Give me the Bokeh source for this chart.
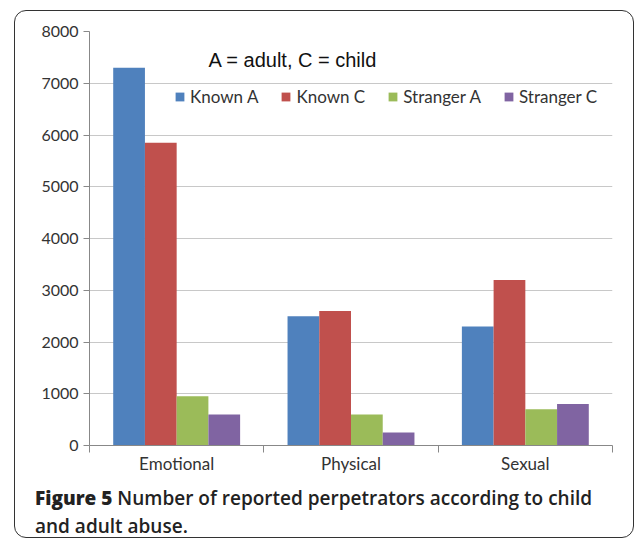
from bokeh.plotting import figure
from bokeh.models import (ColumnDataSource, Range1d, FixedTicker, Label, Legend, LegendItem, Div)
from bokeh.layouts import column
from bokeh.transform import dodge
from bokeh.embed import file_html
from bokeh.resources import INLINE
import numpy as np

categories = ["Emotional", "Physical", "Sexual"]
series = ["Known A", "Known C", "Stranger A", "Stranger C"]
known_a = [7300, 2500, 2300]
known_c = [5850, 2600, 3200]
stranger_a = [950, 600, 700]
stranger_c = [600, 250, 800]
colors = ["#4F81BD", "#C0504D", "#9BBB59", "#8064A2"]
y_ticks = [0, 1000, 2000, 3000, 4000, 5000, 6000, 7000, 8000]
note = "A = adult, C = child"
caption_bold = "Figure 5"
caption_rest = "Number of reported perpetrators according to child and adult abuse."

centers = list(np.arange(len(categories)) + 0.5)
src = ColumnDataSource(dict(x=centers, ka=known_a, kc=known_c, sa=stranger_a, sc=stranger_c))

p = figure(width=617, height=468, output_backend="svg", toolbar_location=None,
           x_range=Range1d(0, len(categories)), y_range=Range1d(0, 8000),
           min_border_left=74, min_border_right=20, min_border_top=20, min_border_bottom=34)
p.outline_line_color = None
p.background_fill_color = "white"
p.border_fill_color = None

w = 0.182
cols = ["ka", "kc", "sa", "sc"]
renderers = []
for i, (c, col) in enumerate(zip(cols, colors)):
    r = p.vbar(x=dodge("x", (i - 1.5) * w, range=p.x_range), top=c, width=w, bottom=0,
               source=src, fill_color=col, line_color=None)
    renderers.append(r)

p.xgrid.visible = False
p.ygrid.grid_line_color = "#c8c8c8"
p.ygrid.grid_line_width = 1.2
p.yaxis.ticker = FixedTicker(ticks=y_ticks)
p.xaxis.ticker = FixedTicker(ticks=centers, minor_ticks=list(range(len(categories) + 1)))
p.xaxis.major_label_overrides = {float(c): n for c, n in zip(centers, categories)}
p.xaxis.major_tick_line_color = None
p.xaxis.major_tick_in = 0
p.xaxis.major_tick_out = 0
p.xaxis.minor_tick_in = 0
p.xaxis.minor_tick_out = 7
p.xaxis.minor_tick_line_color = "#888"
p.yaxis.minor_tick_line_color = None
p.yaxis.major_tick_in = 0
p.yaxis.major_tick_out = 6
p.yaxis.major_tick_line_color = "#888"
for ax in (p.xaxis, p.yaxis):
    ax.axis_line_color = "#888"
    ax.major_label_text_font = "Lato"
    ax.major_label_text_color = "#333"
p.yaxis.major_label_text_font_size = "16px"
p.xaxis.major_label_text_font_size = "17px"
p.yaxis.major_label_standoff = 5
p.xaxis.major_label_standoff = 0

legend = Legend(items=[LegendItem(label=s, renderers=[r]) for s, r in zip(series, renderers)],
                orientation="horizontal", location=(85, 338),
                glyph_width=11, glyph_height=11, label_standoff=5, spacing=22,
                padding=0, margin=0, border_line_color=None, background_fill_alpha=0,
                label_text_font="Lato", label_text_font_size="17px", label_text_color="#333",
                label_height=11)
p.add_layout(legend, "center")

p.add_layout(Label(x=119, y=386, x_units="screen", y_units="screen", text=note,
                   text_font="Liberation Sans", text_font_size="20px", text_color="#111",
                   text_baseline="middle"))

cap = Div(text=f"<b>{caption_bold}</b> {caption_rest}", width=590, height=58,
          styles={"font-family": "'Open Sans'", "font-size": "19px", "line-height": "28px",
                  "color": "#222", "padding-left": "15px", "font-weight": "600"})

layout = column(p, cap, width=620, height=528,
                styles={"margin-left": "14px", "margin-top": "10px",
                        "border": "1.5px solid #333", "border-radius": "12px",
                        "box-sizing": "border-box", "gap": "0px"})

open("out.html", "w").write(file_html(layout, INLINE))
